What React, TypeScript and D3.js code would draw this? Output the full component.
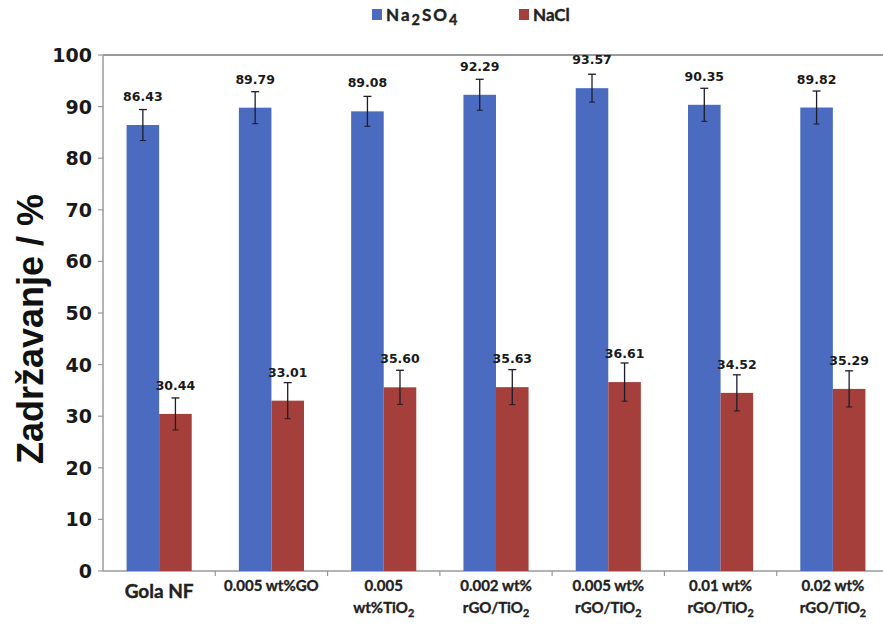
import React from "react";
import * as d3 from "d3";

const categoryLines: string[][] = [
  ["Gola NF"],
  ["0.005 wt%GO"],
  ["0.005", "wt%TiO_2"],
  ["0.002 wt%", "rGO/TiO_2"],
  ["0.005 wt%", "rGO/TiO_2"],
  ["0.01 wt%", "rGO/TiO_2"],
  ["0.02 wt%", "rGO/TiO_2"],
];
const na2so4Values = [86.43, 89.79, 89.08, 92.29, 93.57, 90.35, 89.82];
const naclValues = [30.44, 33.01, 35.6, 35.63, 36.61, 34.52, 35.29];
const na2so4Errors = [3.0, 3.1, 2.9, 3.0, 2.7, 3.2, 3.2];
const naclErrors = [3.1, 3.5, 3.3, 3.4, 3.7, 3.5, 3.5];
const yTicks = [0, 10, 20, 30, 40, 50, 60, 70, 80, 90, 100];
const seriesNames = ["Na_2SO_4", "NaCl"];

const W = 883;
const H = 625;
const left = 103;
const right = 889;
const top = 55;
const bottom = 571;
const BLUE = "#4a6bbf";
const RED = "#a43f3c";
const AXIS = "#9a9a9a";

function renderSub(s: string, fs: number, ratio = 0.72) {
  const parts = s.split("_");
  const out: React.ReactNode[] = [];
  parts.forEach((p, i) => {
    if (i === 0) {
      out.push(<tspan key={i}>{p}</tspan>);
    } else {
      out.push(
        <tspan key={i + "s"} fontSize={fs * ratio} dy={fs * 0.25}>
          {p[0]}
        </tspan>
      );
      if (p.length > 1)
        out.push(
          <tspan key={i + "r"} dy={-fs * 0.25}>
            {p.slice(1)}
          </tspan>
        );
    }
  });
  return out;
}

export default function App() {
  const idx = categoryLines.map((_, i) => String(i));
  const x0 = d3
    .scaleBand<string>()
    .domain(idx)
    .range([left, right])
    .paddingInner(0.42)
    .paddingOuter(0.21);
  const x1 = d3.scaleBand<string>().domain(["a", "b"]).range([0, x0.bandwidth()]).padding(0);
  const y = d3.scaleLinear().domain([0, 100]).range([bottom, top]);

  const series = [
    { key: "a", values: na2so4Values, errs: na2so4Errors, color: BLUE },
    { key: "b", values: naclValues, errs: naclErrors, color: RED },
  ];

  const step = x0.step();
  const boundaries = d3.range(1, categoryLines.length).map((i) => left + i * step);

  return (
    <svg
      width={W}
      height={H}
      style={{ position: "absolute", left: 0, top: 0, background: "#fff" }}
    >
      <rect x={0} y={0} width={W} height={H} fill="#fff" />
      {/* legend */}
      <g
        fontFamily="Lato, 'Open Sans', sans-serif"
        fontWeight="bold"
        fontSize={17}
        fill="#222"
        stroke="#222"
        strokeWidth={0.4}
      >
        <rect x={372} y={9} width={10} height={11} fill={BLUE} stroke="none" />
        <text x={386} y={21} letterSpacing={2}>
          {renderSub(seriesNames[0], 17, 0.85)}
        </text>
        <rect x={519} y={9} width={10} height={11} fill={RED} stroke="none" />
        <text x={533} y={21}>{renderSub(seriesNames[1], 17)}</text>
      </g>

      {/* frame */}
      <line x1={left} x2={W} y1={top} y2={top} stroke={AXIS} strokeWidth={2} />
      <line x1={left} x2={left} y1={top} y2={bottom} stroke={AXIS} strokeWidth={1.5} />
      <line x1={left} x2={W} y1={bottom} y2={bottom} stroke={AXIS} strokeWidth={1.5} />

      {/* y ticks */}
      {yTicks.map((t) => (
        <g key={t}>
          <line x1={left - 5} x2={left} y1={y(t)} y2={y(t)} stroke={AXIS} strokeWidth={1.2} />
          <text
            x={92}
            y={y(t) + 7}
            textAnchor="end"
            fontFamily="'DejaVu Sans', sans-serif"
            fontWeight="bold"
            fontSize={19}
            fill="#1a1a1a"
          >
            {t}
          </text>
        </g>
      ))}
      {boundaries.map((b, i) => (
        <line key={i} x1={b} x2={b} y1={bottom} y2={bottom + 5} stroke={AXIS} strokeWidth={1.2} />
      ))}

      {/* bars */}
      {categoryLines.map((_, i) => (
        <g key={i} transform={`translate(${x0(String(i))},0)`}>
          {series.map((s) => {
            const bx = x1(s.key)!;
            const bw = x1.bandwidth();
            const v = s.values[i];
            const e = s.errs[i];
            const cx = bx + bw / 2;
            return (
              <g key={s.key}>
                <rect x={bx} y={y(v)} width={bw} height={y(0) - y(v)} fill={s.color} />
                <line x1={cx} x2={cx} y1={y(v + e)} y2={y(v - e)} stroke="#1c1c2a" strokeWidth={1.3} />
                <line x1={cx - 4} x2={cx + 4} y1={y(v + e)} y2={y(v + e)} stroke="#1c1c2a" strokeWidth={1.3} />
                <line x1={cx - 3} x2={cx + 3} y1={y(v - e)} y2={y(v - e)} stroke="#1c1c2a" strokeWidth={1} />
                <text
                  x={cx}
                  y={y(v) - 24}
                  textAnchor="middle"
                  fontFamily="'DejaVu Sans', sans-serif"
                  fontWeight="bold"
                  fontSize={12.5}
                  fill="#1a1a1a"
                >
                  {v.toFixed(2)}
                </text>
              </g>
            );
          })}
        </g>
      ))}

      {/* x labels */}
      {categoryLines.map((lines, i) => {
        const cx = x0(String(i))! + x0.bandwidth() / 2;
        if (lines.length === 1 && i === 0) {
          return (
            <text
              key={i}
              x={cx}
              y={598}
              textAnchor="middle"
              fontFamily="Lato, sans-serif"
              fontWeight="bold"
              fontSize={19}
              fill="#222"
              stroke="#222"
              strokeWidth={0.4}
            >
              {lines[0]}
            </text>
          );
        }
        return (
          <g
            key={i}
            fontFamily="Lato, sans-serif"
            fontWeight="bold"
            fontSize={15}
            fill="#222"
            stroke="#222"
            strokeWidth={0.35}
          >
            {lines.map((ln, j) => (
              <text key={j} x={cx} y={591 + j * 22} textAnchor="middle">
                {renderSub(ln, 15)}
              </text>
            ))}
          </g>
        );
      })}

      {/* y title */}
      <text
        transform={`translate(43,${(top + bottom) / 2 + 16}) rotate(-90)`}
        textAnchor="middle"
        fontFamily="'Liberation Sans', Arial, sans-serif"
        fontWeight="bold"
        fontSize={36}
        fill="#111"
      >
        Zadržavanje / %
      </text>
    </svg>
  );
}
